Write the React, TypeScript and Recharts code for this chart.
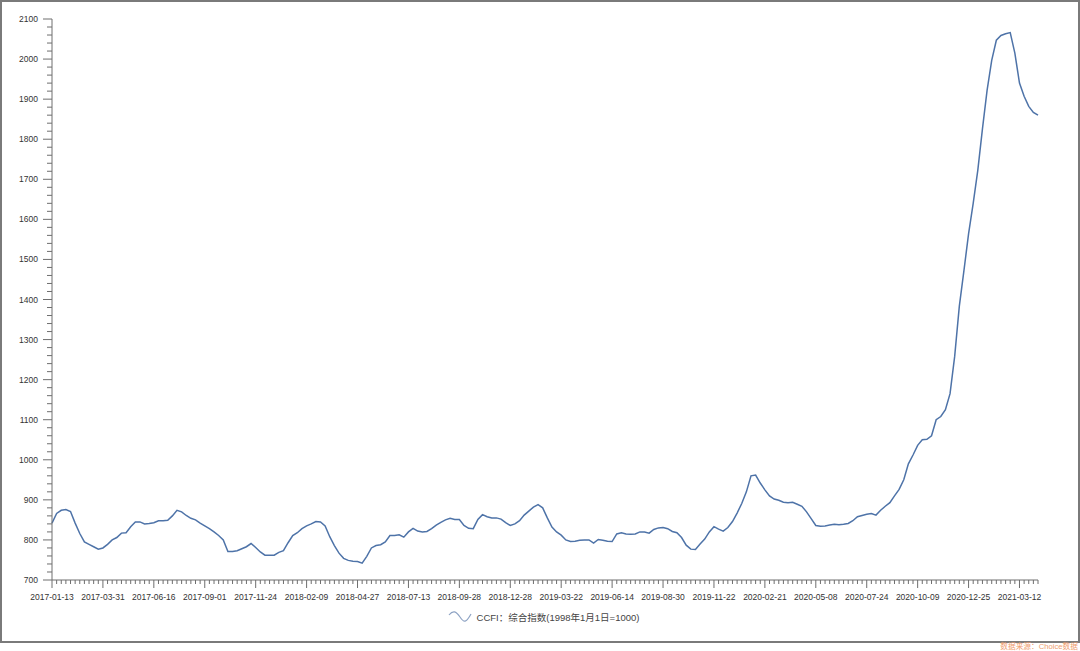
import React from 'react';
import { LineChart, Line, XAxis, YAxis, Legend } from 'recharts';

// x-axis labels, one every 11 weeks
const tickLabels = [
  '2017-01-13', '2017-03-31', '2017-06-16', '2017-09-01', '2017-11-24',
  '2018-02-09', '2018-04-27', '2018-07-13', '2018-09-28', '2018-12-28',
  '2019-03-22', '2019-06-14', '2019-08-30', '2019-11-22', '2020-02-21',
  '2020-05-08', '2020-07-24', '2020-10-09', '2020-12-25', '2021-03-12',
];

// CCFI composite index, weekly
const ccfi = [
  842, 866, 874, 876, 871, 842, 816, 795, 789, 783,
  777, 780, 789, 800, 806, 817, 818, 833, 845, 845,
  840, 841, 843, 848, 848, 849, 860, 874, 870, 861,
  854, 850, 842, 835, 828, 820, 811, 800, 771, 771,
  773, 778, 783, 791, 781, 770, 762, 762, 762, 769,
  773, 793, 811, 818, 828, 835, 840, 846, 845, 835,
  808, 786, 767, 754, 749, 747, 746, 742, 759, 780,
  786, 788, 795, 811, 811, 813, 807, 820, 829, 822,
  820, 821, 828, 837, 844, 850, 854, 851, 851, 836,
  829, 828, 851, 863, 858, 855, 855, 852, 843, 836,
  840, 848, 862, 872, 882, 888, 880, 855, 832, 820,
  812, 800, 796, 797, 799, 800, 800, 792, 801, 799,
  797, 796, 815, 818, 815, 814, 815, 820, 820, 817,
  826, 830, 831, 828, 821, 818, 806, 787, 777, 776,
  790, 802, 820, 833, 827, 822, 831, 846, 867, 891,
  920, 960, 962, 942, 925, 910, 902, 899, 894, 893,
  894, 889, 884, 870, 853, 836, 834, 835, 837, 839,
  838, 839, 841, 848, 858, 861, 864, 866, 862, 874,
  884, 893, 910, 926, 950, 990, 1012, 1036, 1050, 1051,
  1060, 1100, 1108, 1125, 1165, 1258, 1383, 1472, 1564, 1640,
  1723, 1826, 1922, 1997, 2047, 2059, 2063, 2066, 2015, 1940,
  1907, 1882, 1867, 1860,
];

const yMajor = [700, 800, 900, 1000, 1100, 1200, 1300, 1400, 1500, 1600, 1700, 1800, 1900, 2000, 2100];

const data = ccfi.map((v, i) => ({ i, v }));
const xTicks = ccfi.map((_, i) => i);
const yTicks: number[] = [];
yMajor.forEach((m) => {
  yTicks.push(m);
  if (m < 2100) [20, 40, 60, 80].forEach((d) => yTicks.push(m + d));
});

const FONT = '"Liberation Sans", Arial, "Noto Sans CJK SC", sans-serif';
const AXIS = '#6e6e6e';

const XTick = (props: any) => {
  const { x, y, payload } = props;
  const i = payload.value;
  const major = i % 11 === 0;
  return (
    <g>
      <line x1={x} x2={x} y1={y} y2={y + (major ? 8 : 4)} stroke={AXIS} strokeWidth={1} />
      {major && (
        <text x={x} y={y + 17} textAnchor="middle" dominantBaseline="central"
          fontSize={8.5} fontFamily={FONT} fill="#333">
          {tickLabels[i / 11]}
        </text>
      )}
    </g>
  );
};

const YTick = (props: any) => {
  const { x, y, payload } = props;
  const major = payload.value % 100 === 0;
  return (
    <g>
      <line x1={x - (major ? 9 : 5)} x2={x} y1={y} y2={y} stroke={AXIS} strokeWidth={1} />
      {major && (
        <text x={x - 14} y={y} textAnchor="end" dominantBaseline="central"
          fontSize={8.5} fontFamily={FONT} fill="#333">
          {payload.value}
        </text>
      )}
    </g>
  );
};

const LegendBox = () => (
  <div style={{ height: 20, display: 'flex', justifyContent: 'center', alignItems: 'center',
    paddingLeft: 49, fontFamily: FONT, fontSize: 9.5, color: '#444' }}>
    <svg width={24} height={14} style={{ marginRight: 5 }}>
      <path d="M1 5 C5 0, 8 1, 12 7 S18 13, 23 4" fill="none" stroke="#8ea3c4" strokeWidth={1.2} />
    </svg>
    <span>CCFI：综合指数(1998年1月1日=1000)</span>
  </div>
);

export default function App() {
  return (
    <div style={{ position: 'absolute', left: 0, top: 0, width: 1080, height: 651, background: '#fff' }}>
      <div style={{ position: 'absolute', left: 0, top: 0, width: 1080, height: 643,
        border: '2px solid #7a7a7a', boxSizing: 'border-box' }} />
      <div style={{ position: 'absolute', left: 0, top: 0 }}>
        <LineChart width={1080} height={643} data={data}
          margin={{ top: 19, right: 42, bottom: 16, left: 0 }}>
          <XAxis dataKey="i" type="number" domain={[0, 213]} ticks={xTicks} interval={0}
            height={27} tickSize={0} tickMargin={0} tick={XTick}
            axisLine={{ stroke: AXIS }} tickLine={false} />
          <YAxis type="number" domain={[700, 2100]} ticks={yTicks} interval={0}
            width={52} tickSize={0} tickMargin={0} tick={YTick}
            axisLine={{ stroke: AXIS }} tickLine={false} />
          <Legend verticalAlign="bottom" height={20} content={LegendBox} />
          <Line type="linear" dataKey="v" stroke="#4e73a8" strokeWidth={1.5}
            dot={false} isAnimationActive={false} />
        </LineChart>
      </div>
      <span style={{ position: 'absolute', right: 2, top: 640, fontFamily: FONT,
        fontSize: 7.7, color: '#f0a070', whiteSpace: 'nowrap' }}>数据来源：Choice数据</span>
    </div>
  );
}
